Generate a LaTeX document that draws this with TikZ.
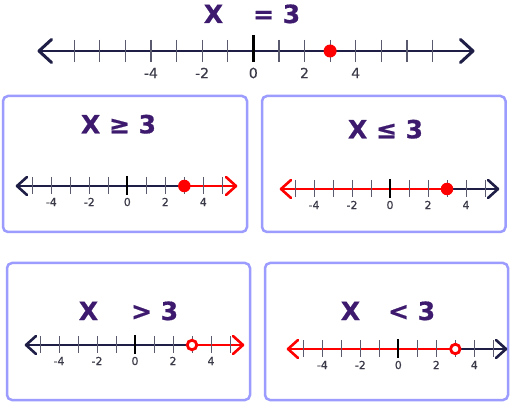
\documentclass[tikz,border=0pt]{standalone}
\usepackage{fontspec}
\setmainfont{DejaVu Sans}
\newfontfamily\titlefont{DejaVu Sans}[BoldFeatures={FakeBold=0.7}]
\newfontfamily\labfont{DejaVu Sans}[FakeBold=0.4]
\usetikzlibrary{calc}
\definecolor{ttl}{HTML}{3D1A6E}
\definecolor{navy}{HTML}{1E1E46}
\definecolor{tickc}{HTML}{5A5A6E}
\definecolor{labc}{HTML}{3A3A48}
\definecolor{boxc}{HTML}{9C9CFF}
\definecolor{redc}{HTML}{FF0000}
\tikzset{
  boxstyle/.style={draw=boxc, line width=2.5pt, rounded corners=5pt, fill=white, inner sep=0pt},
  title/.style={text=ttl, font=\titlefont\fontsize{25}{25}\selectfont\bfseries, inner sep=0pt, anchor=base},
  mainline/.style={line width=2.2pt},
  chev/.style={line width=2.6pt, line cap=round, line join=round},
  tickmark/.style={draw=tickc, line width=1pt},
  zerotick/.style={draw=black, line width=2pt},
  lab/.style={text=labc, font=\labfont\fontsize{11}{11}\selectfont, inner sep=0pt},
  toplab/.style={text=labc, font=\labfont\fontsize{14}{14}\selectfont, inner sep=0pt},
  fulldot/.style={circle, fill=redc, inner sep=0pt, minimum size=12.5pt},
  opendot/.style={circle, draw=redc, fill=white, line width=2.8pt, inner sep=0pt, minimum size=9.5pt},
}
% #1 prefix, #2 y, #3 zero x, #4 left tip x, #5 right tip x, #6 left colour, #7 right colour
\newcommand\SmallLine[7]{%
  \coordinate (#1L) at (#4,#2);
  \coordinate (#1R) at (#5,#2);
  \coordinate (#1P) at (#3+57,#2);
  \draw[mainline,draw=#6] (#1L) -- (#1P);
  \draw[mainline,draw=#7] (#1P) -- (#1R);
  \draw[chev,draw=#6] ($(#1L)+(10,-9)$) -- (#1L) -- ($(#1L)+(10,9)$);
  \draw[chev,draw=#7] ($(#1R)+(-10,-9)$) -- (#1R) -- ($(#1R)+(-10,9)$);
  \foreach \i in {-5,...,5} \draw[tickmark] (#3+19*\i,#2-9) -- (#3+19*\i,#2+8);
  \draw[zerotick] (#3,#2-10) -- (#3,#2+9);
  \foreach \i in {-4,-2,0,2,4} \node[lab] (#1n\i) at (#3+19*\i,#2+16) {\i};
}
\begin{document}
\begin{tikzpicture}[x=1pt,y=-1pt]
\useasboundingbox[fill=white] (0,0) rectangle (511,403);
% top line
\node[title] (t0) at (252,23) {X\hspace{30pt}= 3};
\coordinate (mL) at (39,51);
\coordinate (mR) at (473,51);
\draw[mainline,draw=navy] (mL) -- (mR);
\draw[chev,draw=navy,line width=3pt] ($(mL)+(12.5,-11.5)$) -- (mL) -- ($(mL)+(12.5,11.5)$);
\draw[chev,draw=navy,line width=3pt] ($(mR)+(-12.5,-11.5)$) -- (mR) -- ($(mR)+(-12.5,11.5)$);
\foreach \i in {-7,...,7} \draw[tickmark,line width=1.2pt] (253.3+25.6*\i,40) -- (253.3+25.6*\i,62);
\draw[zerotick,line width=2.4pt] (253.3,35) -- (253.3,62);
\foreach \i in {-4,-2,0,2,4} \node[toplab] (mn\i) at (253.3+25.6*\i,73) {\i};
\node[fulldot,minimum size=13pt] (md) at (330.1,51) {};
% boxes
\node[boxstyle, minimum width=244pt, minimum height=136pt] (b1) at (125,164) {};
\node[boxstyle, minimum width=243.5pt, minimum height=136pt] (b2) at (383.75,164) {};
\node[boxstyle, minimum width=243pt, minimum height=137pt] (b3) at (128.5,331.5) {};
\node[boxstyle, minimum width=243pt, minimum height=137pt] (b4) at (386.5,331.5) {};
% box 1
\node[title] (t1) at (118.5,133.3) {X ≥ 3};
\SmallLine{a}{186}{127.3}{17}{236}{navy}{redc}
\node[fulldot] (ad) at (aP) {};
% box 2
\node[title] (t2) at (385.5,138.3) {X ≤ 3};
\SmallLine{b}{189}{390}{281}{498}{redc}{navy}
\node[fulldot] (bd) at (bP) {};
% box 3
\node[title] (t3) at (128.5,320) {X\hspace{33pt}> 3};
\SmallLine{c}{345}{135}{26}{243}{navy}{redc}
\node[opendot] (cd) at (cP) {};
% box 4
\node[title] (t4) at (388,320) {X\hspace{28pt}< 3};
\SmallLine{d}{349}{398.3}{288}{506}{redc}{navy}
\node[opendot] (dd) at (dP) {};
\end{tikzpicture}
\end{document}
